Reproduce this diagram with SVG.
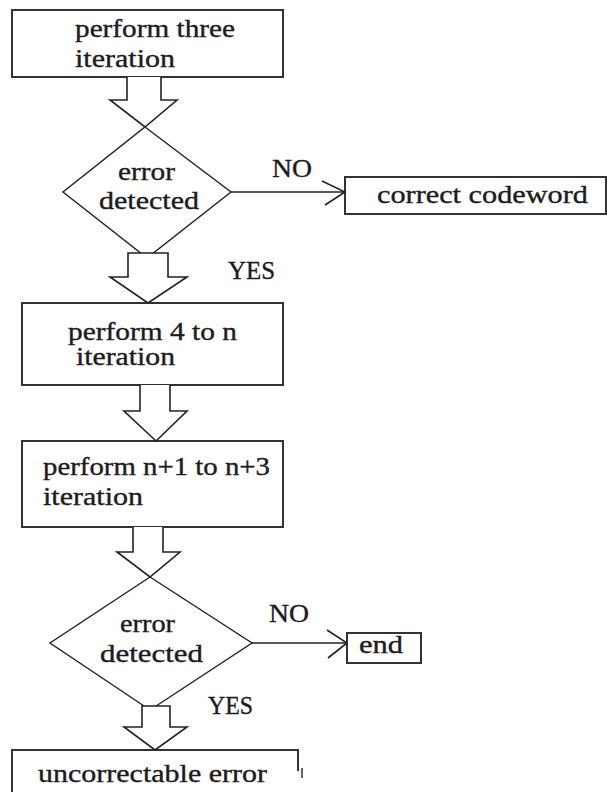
<svg xmlns="http://www.w3.org/2000/svg" width="607" height="792" viewBox="0 0 607 792">
  <style>
    .box { fill: #fff; stroke: #333; stroke-width: 2; }
    .dia { fill: #fff; stroke: #222; stroke-width: 1.4; }
    .blk { fill: #fff; stroke: #222; stroke-width: 1.6; stroke-linejoin: miter; }
    .ln { fill: none; stroke: #222; stroke-width: 1.6; }
    .t { font-size: 25px; fill: #1e1a1e; stroke: #1e1a1e; stroke-width: 0.35; }
  </style>
  <rect width="607" height="792" fill="#fff"/>

  <g font-family="Liberation Serif, Times New Roman, serif">
  <!-- process and decision nodes -->
  <g id="n-three">
    <rect class="box" x="12" y="10" width="271" height="67"/>
    <text class="t" x="75" y="37" textLength="160" lengthAdjust="spacingAndGlyphs">perform three</text>
    <text class="t" x="75" y="67" textLength="100" lengthAdjust="spacingAndGlyphs">iteration</text>
  </g>

  <g id="n-check1">
    <polygon class="dia" points="145,127 231,192 147,258 63,192"/>
    <text class="t" x="118" y="180" textLength="57" lengthAdjust="spacingAndGlyphs">error</text>
    <text class="t" x="99" y="209" textLength="100" lengthAdjust="spacingAndGlyphs">detected</text>
  </g>

  <g id="n-correct">
    <rect class="box" x="345" y="177" width="261" height="37"/>
    <text class="t" x="377" y="203" textLength="211" lengthAdjust="spacingAndGlyphs">correct codeword</text>
  </g>

  <g id="n-four">
    <rect class="box" x="22" y="303" width="261" height="82"/>
    <text class="t" x="68" y="340" textLength="169" lengthAdjust="spacingAndGlyphs">perform 4 to n</text>
    <text class="t" x="76" y="365" textLength="99" lengthAdjust="spacingAndGlyphs">iteration</text>
  </g>

  <g id="n-plus">
    <rect class="box" x="22" y="441" width="261" height="86"/>
    <text class="t" x="43" y="475" textLength="227" lengthAdjust="spacingAndGlyphs">perform n+1 to n+3</text>
    <text class="t" x="43" y="505" textLength="100" lengthAdjust="spacingAndGlyphs">iteration</text>
  </g>

  <g id="n-check2">
    <polygon class="dia" points="150,577 252,643 150,710 50,643"/>
    <text class="t" x="120" y="632" textLength="55" lengthAdjust="spacingAndGlyphs">error</text>
    <text class="t" x="100" y="662" textLength="103" lengthAdjust="spacingAndGlyphs">detected</text>
  </g>

  <g id="n-end">
    <rect class="box" x="347" y="633" width="74" height="30"/>
    <text class="t" x="359" y="653" textLength="44" lengthAdjust="spacingAndGlyphs">end</text>
  </g>

  <g id="n-fail">
    <path class="box" d="M12,792 V750 H298 V771" fill="none"/>
    <line x1="302" y1="768" x2="302" y2="778" stroke="#333" stroke-width="1.5"/>
    <text class="t" x="38" y="782" textLength="229" lengthAdjust="spacingAndGlyphs">uncorrectable error</text>
  </g>

  <!-- connectors: block arrows down the main path, line arrows for the NO branches -->
  <g id="connectors">
    <polyline class="blk" points="127,77 127,100 110,100 145,127 177,100 161,100 161,77"/>
    <polygon class="blk" points="128,253 128,277 110,277 148,303 187,277 168,277 168,253"/>
    <polyline class="blk" points="140,385 140,411 124,411 156,441 187,411 170,411 170,385"/>
    <polyline class="blk" points="133,527 133,552 117,552 150,577 180,552 163,552 163,527"/>
    <polygon class="blk" points="142,706 142,727 124,727 155,750 187,727 170,727 170,706"/>

    <line class="ln" x1="231" y1="192" x2="345" y2="192"/>
    <polyline class="ln" points="322,181 345,192 325,205"/>
    <line class="ln" x1="252" y1="643" x2="347" y2="643"/>
    <polyline class="ln" points="327,630 347,643 328,658"/>

    <text class="t" x="272" y="177" textLength="40" lengthAdjust="spacingAndGlyphs">NO</text>
    <text class="t" x="228" y="279" textLength="47" lengthAdjust="spacingAndGlyphs">YES</text>
    <text class="t" x="269" y="622" textLength="40" lengthAdjust="spacingAndGlyphs">NO</text>
    <text class="t" x="208" y="714" textLength="45" lengthAdjust="spacingAndGlyphs">YES</text>
  </g>
  </g>
</svg>
